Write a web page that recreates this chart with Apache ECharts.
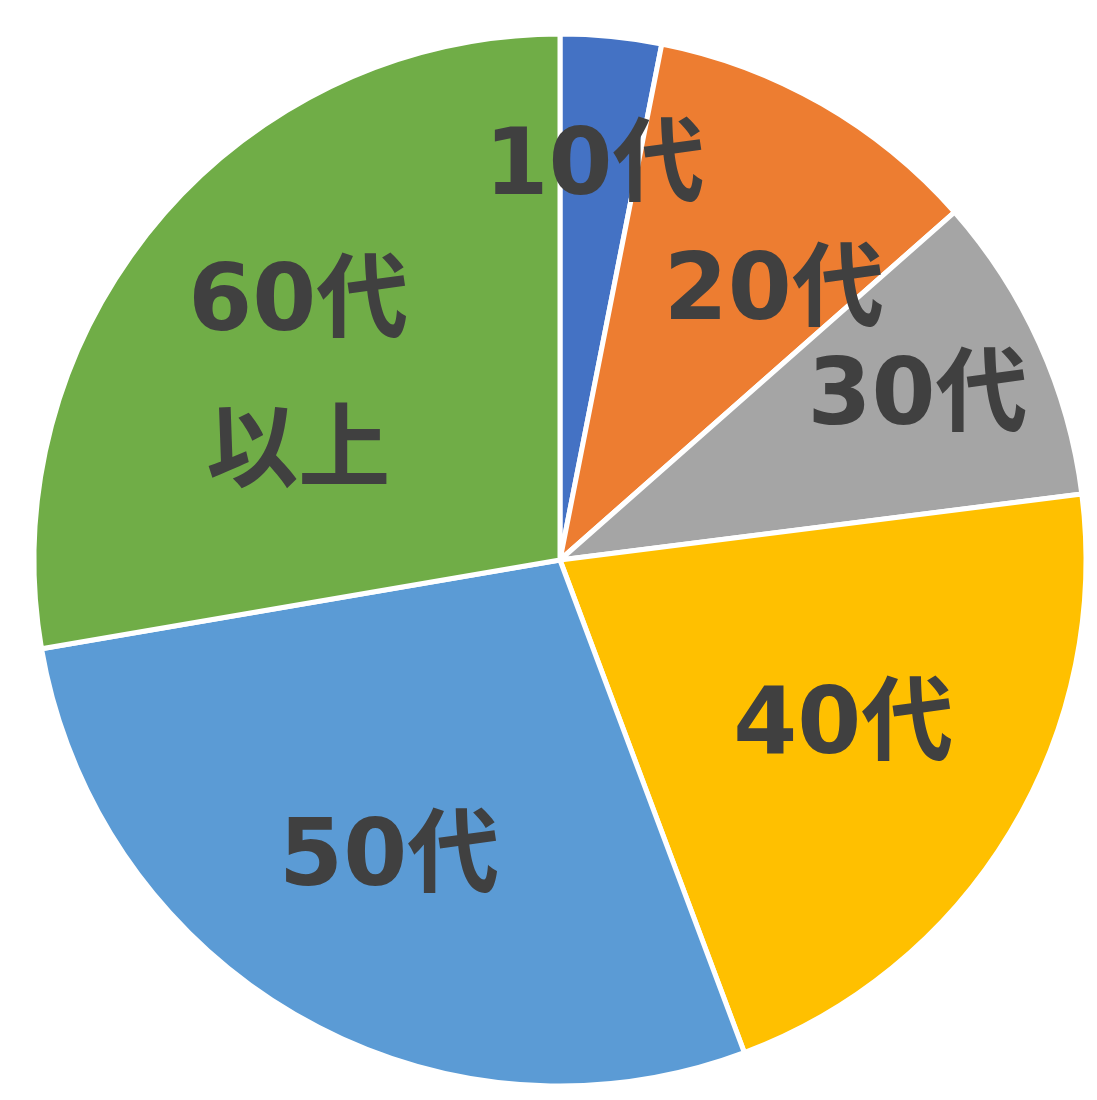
<!DOCTYPE html>
<html>
<head>
<meta charset="utf-8">
<script src="https://cdn.jsdelivr.net/npm/echarts@6/dist/echarts.min.js"></script>
<style>
html,body{margin:0;padding:0;background:#fff;}
#chart{width:1097px;height:1100px;}
</style>
</head>
<body>
<div id="chart"></div>
<script>
const categories = ['10代', '20代', '30代', '40代', '50代', '60代\n以上'];
const values = [3.1, 10.4, 9.5, 21.3, 28.0, 27.7];
const colors = ['#4472C4', '#ED7D31', '#A5A5A5', '#FFC000', '#5B9BD5', '#70AD47'];
const labelOffsets = [[1, -47], [42, 34], [43, -18], [-12, -9], [1, 2], [2, 44]];

const chart = echarts.init(document.getElementById('chart'), null, {renderer: 'canvas'});

const total = values.reduce((a, b) => a + b, 0);
const sliceData = categories.map((c, i) => ({
  name: c, value: values[i], itemStyle: {color: colors[i]}
}));
let cum = 0;
const labelData = categories.map((c, i) => {
  const mid = cum + values[i] / 2;
  cum += values[i];
  return {name: c, value: [345, mid], label: {offset: labelOffsets[i]}};
});

chart.setOption({
  animation: false,
  backgroundColor: '#ffffff',
  polar: {center: [560, 560], radius: 526},
  angleAxis: {type: 'value', min: 0, max: total, startAngle: 90, clockwise: true, show: false},
  radiusAxis: {type: 'value', min: 0, max: 526, show: false},
  series: [
    {
      type: 'pie',
      center: [560, 560],
      radius: [0, 526],
      startAngle: 90,
      clockwise: true,
      avoidLabelOverlap: false,
      silent: true,
      label: {show: false},
      labelLine: {show: false},
      itemStyle: {borderColor: '#ffffff', borderWidth: 5},
      emphasis: {disabled: true},
      data: sliceData
    },
    {
      type: 'scatter',
      coordinateSystem: 'polar',
      symbolSize: 0,
      silent: true,
      z: 10,
      itemStyle: {opacity: 1},
      emphasis: {disabled: true},
      label: {
        show: true,
        position: 'inside',
        formatter: '{b}',
        color: '#404040',
        opacity: 1,
        fontSize: 92,
        fontWeight: 'bold',
        fontFamily: '"DejaVu Sans", "Noto Sans CJK JP", sans-serif',
        lineHeight: 150,
        align: 'center',
        verticalAlign: 'middle'
      },
      data: labelData
    }
  ]
});
</script>
</body>
</html>
